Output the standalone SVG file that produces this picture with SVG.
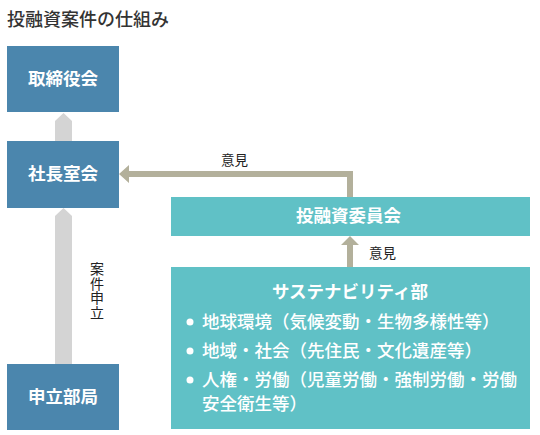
<svg xmlns="http://www.w3.org/2000/svg" width="540" height="435" viewBox="0 0 540 435">
<style>
text{font-family:"Noto Sans CJK JP","Noto Sans",sans-serif}
.blue{fill:#4b86ad}
.teal{fill:#60c1c6}
.wt{fill:#fff;font-weight:bold;font-size:17.5px}
.lab{fill:#222;font-size:13.5px}
.gray{fill:#d4d4d4}
.tan{fill:#b3b09b}
.item{fill:#fff;font-size:17.5px;font-weight:500}
</style>
<rect width="540" height="435" fill="#fff"/>
<text x="7" y="26" style="font-size:18px;fill:#333;font-weight:500">投融資案件の仕組み</text>
<g id="connectors">
<polygon class="gray" points="55,141 55,121 63.5,113 72,121 72,141"/>
<polygon class="gray" points="55,364 55,216 63.5,208 72,216 72,364"/>
<polygon class="tan" points="347,197 347,177 129,177 129,183 119,174 129,165 129,171 353,171 353,197"/>
<polygon class="tan" points="347,267 347,245 341,245 350,236 359,245 353,245 353,267"/>
<text class="lab" x="221" y="165">意見</text>
<text class="lab" x="369" y="258">意見</text>
<text class="lab" x="97" y="262" style="writing-mode:vertical-rl;font-size:14px;letter-spacing:0.5px">案件申立</text>
</g>
<g id="torishimariyakukai">
<rect class="blue" x="7" y="46" width="112" height="66"/>
<text class="wt" x="63" y="85" text-anchor="middle">取締役会</text>
</g>
<g id="shachoshitsukai">
<rect class="blue" x="7" y="141" width="112" height="67"/>
<text class="wt" x="63" y="180" text-anchor="middle">社長室会</text>
</g>
<g id="moushitatebukyoku">
<rect class="blue" x="7" y="364" width="112" height="66"/>
<text class="wt" x="63" y="403" text-anchor="middle">申立部局</text>
</g>
<g id="iinkai">
<rect class="teal" x="171" y="197" width="359" height="39"/>
<text class="wt" x="296" y="222">投融資委員会</text>
</g>
<g id="sustainability">
<rect class="teal" x="171" y="267" width="359" height="162"/>
<text class="wt" x="350" y="298" text-anchor="middle">サステナビリティ部</text>
<circle cx="190" cy="322" r="3.5" fill="#fff"/>
<circle cx="190" cy="351" r="3.5" fill="#fff"/>
<circle cx="190" cy="380" r="3.5" fill="#fff"/>
<text class="item" x="202" y="328">地球環境（気候変動・生物多様性等）</text>
<text class="item" x="202" y="357">地域・社会（先住民・文化遺産等）</text>
<text class="item" x="202" y="386">人権・労働（児童労働・強制労働・労働</text>
<text class="item" x="202" y="410">安全衛生等）</text>
</g>
</svg>
